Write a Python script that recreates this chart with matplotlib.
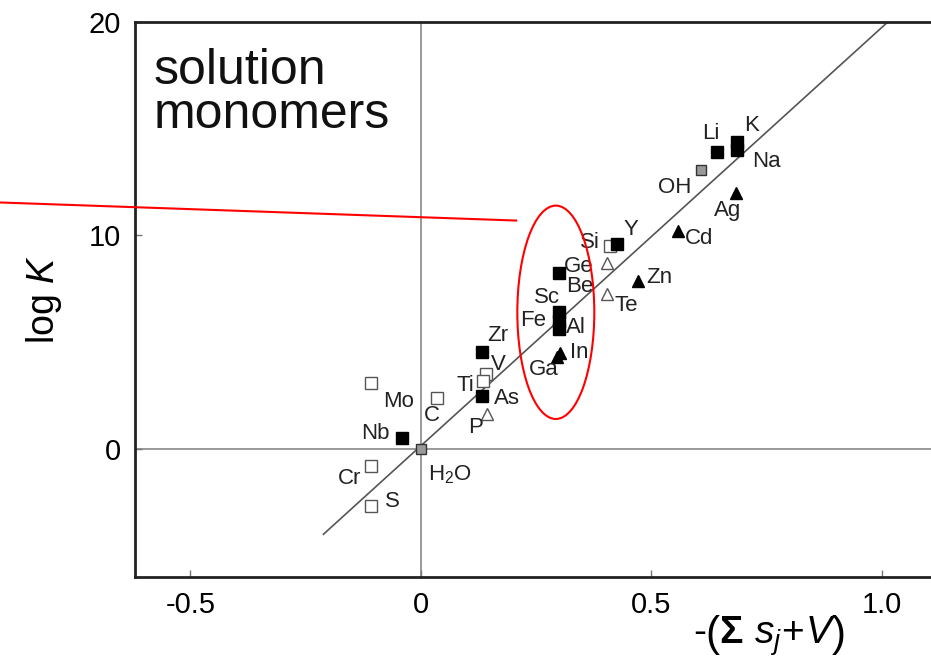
import matplotlib.pyplot as plt
from matplotlib.patches import Ellipse

plt.rcParams['font.family'] = ['Liberation Sans', 'DejaVu Sans']
plt.rcParams['mathtext.fontset'] = 'custom'
plt.rcParams['mathtext.rm'] = 'Liberation Sans'
plt.rcParams['mathtext.it'] = 'Liberation Sans:italic'
plt.rcParams['mathtext.bf'] = 'Liberation Sans:bold'

# elements, x = -(sum s_j + V), y = log K, marker kind
names = ['Li', 'K', 'Na', 'OH', 'Ag', 'Cd', 'Si', 'Y', 'Ge', 'Be', 'Zn', 'Te',
         'Sc', 'Fe', 'Al', 'In', 'Ga', 'Zr', 'V', 'Ti', 'As', 'P', 'C', 'Mo',
         'Nb', 'H$_2$O', 'Cr', 'S']
xs = [0.643, 0.687, 0.687, 0.609, 0.685, 0.559, 0.410, 0.426, 0.404, 0.300, 0.472, 0.404,
      0.300, 0.300, 0.300, 0.302, 0.296, 0.133, 0.142, 0.136, 0.133, 0.143, 0.035, -0.107,
      -0.041, 0.0, -0.107, -0.107]
ys = [13.9, 14.4, 14.0, 13.05, 12.0, 10.23, 9.5, 9.58, 8.69, 8.26, 7.89, 7.28,
      6.4, 6.0, 5.6, 4.5, 4.3, 4.55, 3.5, 3.2, 2.49, 1.64, 2.4, 3.1,
      0.52, 0.0, -0.8, -2.68]
kinds = ['fs', 'fs', 'fs', 'hs', 'ft', 'ft', 'os', 'fs', 'ot', 'fs', 'ft', 'ot',
         'fs', 'fs', 'fs', 'ft', 'ft', 'fs', 'os', 'os', 'fs', 'ot', 'os', 'os',
         'fs', 'hs', 'os', 'os']

# label offsets in pixels (right, up)
offsets = [(-6, 19), (14, 16), (29, -11), (-27, -17), (-9, -18), (21, -8), (-20, 4), (14, 15),
           (-28, -3), (21, -14), (21, 3), (19, -12), (-12, 15), (-26, 0), (17, 2), (19, 0),
           (-13, -12), (16, 16), (12, 10), (-18, -5), (25, -3), (-11, -14), (-5, -18),
           (27, -19), (-26, 4), (29, -26), (-22, -13), (21, 5)]

fit_x = [-0.211, 1.013]
fit_y = [-4.0, 20.0]

styles = {
    'fs': dict(marker='s', ms=9, mfc='black', mec='black'),
    'os': dict(marker='s', ms=8, mfc='white', mec='#555555', mew=1),
    'ft': dict(marker='^', ms=8, mfc='black', mec='black'),
    'ot': dict(marker='^', ms=8, mfc='white', mec='#555555', mew=1),
    'hs': dict(marker='s', ms=7, mfc='#999999', mec='#333333', mew=1),
}

fig = plt.figure(figsize=(9.31, 6.7), dpi=100)
ax = fig.add_axes([0.145, 0.139, 0.855, 0.828])

ax.axvline(0, color='#888888', lw=1.2, zorder=1)
ax.axhline(0, color='#888888', lw=1.2, zorder=1)
ax.plot(fit_x, fit_y, color='#555555', lw=1.2, zorder=2)

for n, x, y, k, (dx, dy) in zip(names, xs, ys, kinds, offsets):
    ax.plot(x, y, ls='none', zorder=3, **styles[k])
    ax.annotate(n, (x, y), xytext=(dx, dy), textcoords='offset pixels',
                ha='center', va='center', fontsize=16, color='#222222')

ax.text(-0.58, 18.8, 'solution\nmonomers', fontsize=36, va='top', ha='left',
        linespacing=0.95, color='#111111')

# red annotation
ax.add_patch(Ellipse((0.293, 6.4), 0.167, 10.0, fill=False, ec='red', lw=1.5, zorder=4))
ax.plot([-0.917, 0.207], [11.55, 10.7], color='red', lw=1.5, clip_on=False, zorder=4)

ax.set_xlim(-0.62, 1.107)
ax.set_ylim(-6, 20)
ax.set_xticks([-0.5, 0, 0.5, 1.0])
ax.set_xticklabels(['-0.5', '0', '0.5', '1.0'])
ax.set_yticks([0, 10, 20])
ax.tick_params(direction='in', length=5, width=1, labelsize=21, pad=10, color='#777777')
for s in ['left', 'bottom', 'top']:
    ax.spines[s].set_linewidth(2)
    ax.spines[s].set_color('#222222')
ax.spines['right'].set_visible(False)

ax.set_ylabel('log $\\mathit{K}$', fontsize=27, labelpad=18)
fig.text(0.826, 0.052, r'-$\left(\mathbf{\Sigma}\ s_j\!+\!V\right)$', fontsize=28, ha='center', va='center')

fig.savefig('out.png', dpi=100)
